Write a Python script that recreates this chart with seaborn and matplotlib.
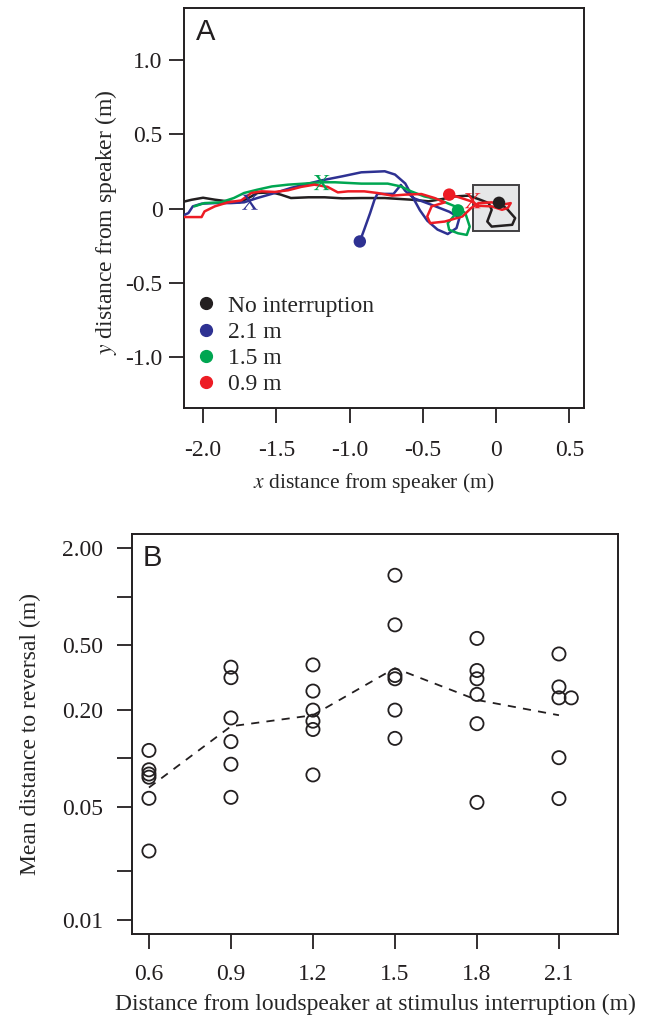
import numpy as np
import pandas as pd
import matplotlib
matplotlib.use('Agg')
import matplotlib.pyplot as plt
import seaborn as sns
from matplotlib.patches import Rectangle
from matplotlib.lines import Line2D

sns.set_style('ticks')
plt.rcParams['font.family'] = ['Liberation Serif', 'DejaVu Serif']
plt.rcParams['mathtext.fontset'] = 'stix'
plt.rcParams['axes.unicode_minus'] = False

# ---------------- Panel A data ----------------
series_labels = ['No interruption', '2.1 m', '1.5 m', '0.9 m']
series_colors = ['#231f20', '#2e3192', '#00a651', '#ed1c24']

none_x = [-2.15, -2.08, -2.00, -1.92, -1.81, -1.75, -1.69, -1.63, -1.53, -1.47, -1.40, -1.28, -1.17,
          -1.05, -0.92, -0.76, -0.58, -0.46, -0.37, -0.28, -0.19, -0.12, -0.05, -0.03, -0.06, -0.03,
          0.11, 0.13, 0.08, 0.04, 0.02]
none_y = [0.043, 0.06, 0.074, 0.061, 0.047, 0.043, 0.072, 0.106, 0.11, 0.095, 0.072, 0.077, 0.077,
          0.07, 0.072, 0.072, 0.061, 0.05, 0.065, 0.083, 0.088, 0.065, 0.038, -0.007, -0.086, -0.12,
          -0.108, -0.063, -0.007, 0.027, 0.04]

far_x = [-2.15, -2.10, -2.07, -2.01, -1.92, -1.81, -1.72, -1.63, -1.51, -1.40, -1.28, -1.19, -1.05,
         -0.92, -0.76, -0.69, -0.62, -0.57, -0.52, -0.47, -0.40, -0.33, -0.27, -0.25, -0.32, -0.45,
         -0.56, -0.62, -0.65, -0.70, -0.81, -0.83, -0.86, -0.90, -0.93]
far_y = [-0.052, -0.029, 0.016, 0.034, 0.038, 0.038, 0.043, 0.072, 0.106, 0.14, 0.169, 0.191, 0.218,
         0.245, 0.252, 0.23, 0.17, 0.08, -0.01, -0.08, -0.14, -0.17, -0.13, -0.06, -0.02, 0.03,
         0.07, 0.12, 0.16, 0.10, 0.10, 0.06, -0.03, -0.14, -0.22]

mid_x = [-2.06, -1.99, -1.88, -1.79, -1.72, -1.63, -1.53, -1.42, -1.31, -1.19, -1.10, -0.92, -0.74,
         -0.65, -0.58, -0.49, -0.39, -0.28, -0.21, -0.18, -0.20, -0.26, -0.32, -0.33, -0.30, -0.26]
mid_y = [0.016, 0.038, 0.043, 0.072, 0.106, 0.128, 0.15, 0.162, 0.169, 0.178, 0.178, 0.169, 0.169,
         0.15, 0.117, 0.083, 0.061, 0.016, -0.029, -0.12, -0.176, -0.165, -0.142, -0.097, -0.063, -0.011]

near_x = [-2.15, -2.08, -2.01, -1.99, -1.92, -1.83, -1.74, -1.67, -1.60, -1.51, -1.42, -1.33, -1.24,
          -1.15, -1.08, -1.01, -0.90, -0.81, -0.71, -0.62, -0.51, -0.42, -0.35, -0.44, -0.47, -0.45,
          -0.35, -0.23, -0.17, -0.12, -0.03, 0.04, 0.10, 0.08, 0.04, -0.03, -0.12, -0.17, -0.26, -0.32]
near_y = [-0.056, -0.056, -0.056, -0.018, 0.016, 0.043, 0.056, 0.106, 0.117, 0.113, 0.124, 0.147, 0.162,
          0.147, 0.11, 0.117, 0.117, 0.106, 0.088, 0.095, 0.099, 0.072, 0.043, 0.016, -0.052, -0.097,
          -0.086, -0.052, 0.005, 0.038, 0.043, 0.027, 0.038, 0.005, -0.007, 0.016, 0.02, 0.05, 0.079, 0.095]

track_x = [none_x, far_x, mid_x, near_x]
track_y = [none_y, far_y, mid_y, near_y]

end_x = [0.02, -0.93, -0.26, -0.32]
end_y = [0.04, -0.22, -0.011, 0.095]

interrupt_labels = ['2.1 m', '1.5 m', '0.9 m']
interrupt_x = [-1.68, -1.19, -0.16]
interrupt_y = [0.044, 0.176, 0.054]

speaker_box = (-0.155, -0.147, 0.313, 0.304)  # x0, y0, w, h

a_xticks = [-2.0, -1.5, -1.0, -0.5, 0.0, 0.5]
a_xticklabels = ['-2.0', '-1.5', '-1.0', '-0.5', '0', '0.5']
a_yticks = [-1.0, -0.5, 0.0, 0.5, 1.0]
a_yticklabels = ['-1.0', '-0.5', '0', '0.5', '1.0']

# ---------------- Panel B data ----------------
dist_06 = [0.112, 0.085, 0.080, 0.0765, 0.0566, 0.0267]
dist_09 = [0.367, 0.316, 0.178, 0.127, 0.092, 0.0574]
dist_12 = [0.379, 0.261, 0.199, 0.170, 0.151, 0.079]
dist_15 = [1.36, 0.671, 0.326, 0.311, 0.199, 0.133]
dist_18 = [0.553, 0.350, 0.311, 0.249, 0.164, 0.0534]
dist_21 = [0.443, 0.277, 0.237, 0.101, 0.0564]
dist_21_offset_x = [2.145]
dist_21_offset_y = [0.237]

b_levels = [0.6, 0.9, 1.2, 1.5, 1.8, 2.1]
b_mean = [0.066, 0.158, 0.185, 0.362, 0.230, 0.185]
b_xticklabels = ['0.6', '0.9', '1.2', '1.5', '1.8', '2.1']
b_yticks = [0.01, 0.02, 0.05, 0.1, 0.2, 0.5, 1.0, 2.0]
b_yticklabels = ['0.01', '', '0.05', '', '0.20', '0.50', '', '2.00']

# ---------------- Figure ----------------
W, H = 651, 1016
fig = plt.figure(figsize=(W / 100, H / 100), dpi=100)
axA = fig.add_axes([184 / W, 1 - 408 / H, 400 / W, 400 / H])
axB = fig.add_axes([132 / W, 1 - 934 / H, 486 / W, 400 / H])

edge = '#231f20'
tick_fs = 17
lab_fs = 17

# Panel A
rows = []
for lab, xs, ys in zip(series_labels, track_x, track_y):
    for i, (x, y) in enumerate(zip(xs, ys)):
        rows.append({'series': lab, 'x': x, 'y': y, 'order': i})
dfA = pd.DataFrame(rows)
pal = dict(zip(series_labels, series_colors))

axA.add_patch(Rectangle(speaker_box[:2], speaker_box[2], speaker_box[3],
                        facecolor='#e6e7e8', edgecolor='#414042', lw=1.4, zorder=1))
for lab in series_labels:
    sub = dfA[dfA['series'] == lab]
    sns.lineplot(data=sub, x='x', y='y', sort=False, estimator=None, color=pal[lab],
                 lw=1.8, ax=axA, zorder=3)
dfEnd = pd.DataFrame({'series': series_labels, 'x': end_x, 'y': end_y})
sns.scatterplot(data=dfEnd, x='x', y='y', hue='series', palette=pal, s=80,
                edgecolor='none', ax=axA, legend=False, zorder=4)
dfX = pd.DataFrame({'series': interrupt_labels, 'x': interrupt_x, 'y': interrupt_y})
sns.scatterplot(data=dfX, x='x', y='y', hue='series', palette=pal, s=130,
                marker=r'$\mathrm{X}$', linewidth=0, ax=axA, legend=False, zorder=5)

axA.set_xlim(-2.13, 0.60)
axA.set_ylim(-1.34, 1.35)
axA.set_xticks(a_xticks)
axA.set_xticklabels(a_xticklabels)
axA.set_yticks(a_yticks)
axA.set_yticklabels(a_yticklabels)
axA.set_xlabel(r'$\mathit{x}$ distance from speaker (m)', fontsize=15.5, labelpad=6.8, x=0.474)
axA.set_ylabel(r'$\mathit{y}$ distance from speaker (m)', fontsize=lab_fs, labelpad=5, y=0.465)
axA.text(0.03, 0.975, 'A', transform=axA.transAxes, fontsize=21, family='Liberation Sans',
         va='top', ha='left', color=edge)

handles = [Line2D([], [], marker='o', ls='none', color=c, markersize=8.5) for c in series_colors]
axA.legend(handles, series_labels, loc='lower left', bbox_to_anchor=(0.0, -0.01),
           frameon=False, fontsize=tick_fs, handlelength=0.5, handletextpad=0.67,
           labelspacing=0.2, borderaxespad=0.3)

# Panel B
groups = [dist_06, dist_09, dist_12, dist_15, dist_18, dist_21]
bx, by = [], []
for lvl, vals in zip(b_levels, groups):
    bx += [lvl] * len(vals)
    by += vals
bx += dist_21_offset_x
by += dist_21_offset_y
dfB = pd.DataFrame({'x': bx, 'y': by})
sns.scatterplot(data=dfB, x='x', y='y', s=90, facecolor='none', edgecolor=edge,
                linewidth=1.3, ax=axB, zorder=3)
dfM = pd.DataFrame({'x': b_levels, 'y': b_mean})
sns.lineplot(data=dfM, x='x', y='y', color=edge, lw=1.3, ax=axB, zorder=2,
             dashes=False, linestyle=(0, (4.5, 4)))
axB.set_yscale('log')
axB.set_xlim(0.538, 2.316)
axB.set_ylim(0.00818, 2.45)
axB.set_xticks(b_levels)
axB.set_xticklabels(b_xticklabels)
axB.set_yticks(b_yticks)
axB.set_yticklabels(b_yticklabels)
axB.minorticks_off()
axB.set_xlabel('Distance from loudspeaker at stimulus interruption (m)', fontsize=lab_fs, labelpad=6.5)
axB.set_ylabel('Mean distance to reversal (m)', fontsize=lab_fs, labelpad=15.3)
axB.text(0.022, 0.975, 'B', transform=axB.transAxes, fontsize=21, family='Liberation Sans',
         va='top', ha='left', color=edge)

for ax in (axA, axB):
    for sp in ax.spines.values():
        sp.set_visible(True)
        sp.set_color(edge)
        sp.set_linewidth(1.4)
    ax.tick_params(axis='both', direction='out', length=10.8, width=1.3, color=edge,
                   labelsize=tick_fs, labelcolor=edge)
axA.tick_params(axis='x', pad=12.5)
axA.tick_params(axis='y', pad=4.5)
axB.tick_params(axis='x', pad=11)
axB.tick_params(axis='y', pad=10)

fig.savefig('out.png', dpi=100)
